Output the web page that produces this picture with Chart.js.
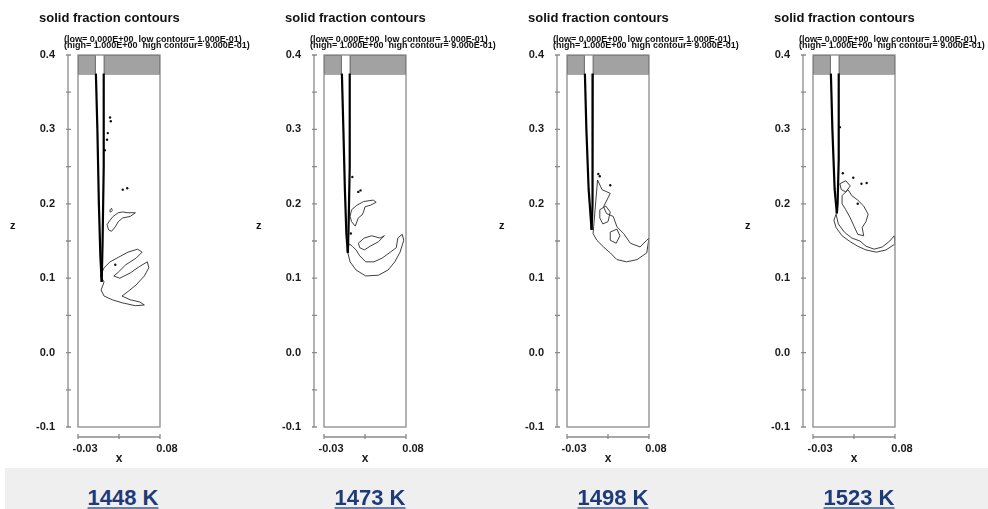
<!DOCTYPE html>
<html>
<head>
<meta charset="utf-8">
<script src="https://cdn.jsdelivr.net/npm/chart.js@4.4.0/dist/chart.umd.min.js"></script>
<style>
	html, body { margin: 0; padding: 0; background: #fff; width: 988px; height: 509px; overflow: hidden; }
	.panel { position: absolute; top: 0; width: 256px; height: 468px; }
	#band { position: absolute; left: 5px; top: 468px; width: 983px; height: 41px; background: #efefef; }
	.temp { position: absolute; top: 485px; line-height: 26px; font: bold 22px 'Liberation Sans', Arial, sans-serif; color: #1d3b79; text-decoration: underline; text-decoration-color: #6c7fa8; transform: translateX(-50%); white-space: nowrap; }
</style>
</head>
<body>
<div id="band"></div>
<div class="panel" style="left:0px"><canvas id="c0" width="256" height="468"></canvas></div>
<div class="panel" style="left:246px"><canvas id="c1" width="256" height="468"></canvas></div>
<div class="panel" style="left:489px"><canvas id="c2" width="256" height="468"></canvas></div>
<div class="panel" style="left:735px"><canvas id="c3" width="256" height="468"></canvas></div>
<span class="temp" style="left:123px">1448 K</span>
<span class="temp" style="left:370px">1473 K</span>
<span class="temp" style="left:613px">1498 K</span>
<span class="temp" style="left:859px">1523 K</span>

<script>
// ---- data ----
const temps = ['1448 K', '1473 K', '1498 K', '1523 K'];
const yTicks = [0.4, 0.3, 0.2, 0.1, 0.0, -0.1];
const yMinor = [0.35, 0.25, 0.15, 0.05, -0.05];
const xTicks = [-0.03, 0.08];
const xMid = 0.025;
const moldTop = 0.375;          // underside of the grey cap
const nozzle = [-0.006, 0.0045]; // opening in the cap

// jet walls, left and right
const jetL1448 = [[-0.006, 0.375], [-0.004, 0.30], [-0.002, 0.20], [0.0, 0.13], [0.0018, 0.095]];
const jetR1448 = [[0.0045, 0.375], [0.0045, 0.25], [0.003, 0.15], [0.0018, 0.095]];
const jetL1473 = [[-0.006, 0.375], [-0.004, 0.30], [-0.002, 0.22], [0.0, 0.16], [0.002, 0.134]];
const jetR1473 = [[0.0045, 0.375], [0.0045, 0.25], [0.003, 0.17], [0.002, 0.134]];
const jetL1498 = [[-0.006, 0.375], [-0.004, 0.30], [-0.001, 0.22], [0.003, 0.165]];
const jetR1498 = [[0.0045, 0.375], [0.0045, 0.25], [0.004, 0.20], [0.003, 0.165]];
const jetL1523 = [[-0.006, 0.375], [-0.004, 0.30], [-0.001, 0.22], [0.002, 0.187]];
const jetR1523 = [[0.0045, 0.375], [0.0045, 0.26], [0.003, 0.20], [0.002, 0.187]];

// closed contour loops (fs = 0.1)
const loops1448 = [
	[[0.013, 0.178], [0.017, 0.183], [0.024, 0.188], [0.030, 0.189], [0.037, 0.188], [0.047, 0.188], [0.040, 0.183], [0.030, 0.181], [0.024, 0.176], [0.020, 0.169], [0.015, 0.163], [0.011, 0.165], [0.009, 0.172]],
	[[0.013, 0.192], [0.015, 0.194], [0.016, 0.191], [0.014, 0.189]],
	[[0.005, 0.114], [0.013, 0.122], [0.024, 0.128], [0.037, 0.135], [0.050, 0.139], [0.056, 0.135], [0.048, 0.127], [0.034, 0.118], [0.024, 0.108], [0.018, 0.103], [0.026, 0.100], [0.040, 0.107], [0.053, 0.116], [0.063, 0.122], [0.065, 0.114], [0.059, 0.103], [0.048, 0.091], [0.037, 0.082], [0.029, 0.076], [0.040, 0.071], [0.053, 0.068], [0.059, 0.064], [0.047, 0.063], [0.029, 0.067], [0.016, 0.071], [0.005, 0.076], [0.001, 0.084], [0.005, 0.095], [0.000, 0.103]]
];
const loops1473 = [
	[[0.007, 0.192], [0.014, 0.198], [0.023, 0.203], [0.036, 0.205], [0.040, 0.202], [0.032, 0.198], [0.025, 0.196], [0.023, 0.189], [0.021, 0.185], [0.016, 0.181], [0.012, 0.170], [0.007, 0.176], [0.005, 0.183]],
	[[0.001, 0.138], [0.005, 0.122], [0.013, 0.111], [0.026, 0.103], [0.043, 0.104], [0.056, 0.111], [0.065, 0.122], [0.072, 0.135], [0.077, 0.151], [0.075, 0.159], [0.069, 0.154], [0.067, 0.141], [0.059, 0.135], [0.048, 0.127], [0.037, 0.122], [0.026, 0.122], [0.018, 0.130], [0.013, 0.138], [0.008, 0.143], [0.004, 0.146]],
	[[0.016, 0.147], [0.024, 0.154], [0.034, 0.157], [0.045, 0.154], [0.051, 0.157], [0.043, 0.149], [0.032, 0.143], [0.024, 0.138], [0.018, 0.141]]
];
const loops1498 = [
	[[0.011, 0.232], [0.017, 0.219], [0.028, 0.214], [0.019, 0.196], [0.023, 0.187], [0.032, 0.183], [0.037, 0.169], [0.046, 0.160], [0.055, 0.147], [0.068, 0.142], [0.077, 0.151], [0.080, 0.154], [0.077, 0.134], [0.064, 0.125], [0.050, 0.122], [0.037, 0.125], [0.028, 0.134], [0.019, 0.142], [0.010, 0.151], [0.005, 0.160]],
	[[0.014, 0.192], [0.022, 0.197], [0.028, 0.189], [0.025, 0.176], [0.018, 0.173], [0.014, 0.181]],
	[[0.028, 0.162], [0.037, 0.166], [0.041, 0.157], [0.036, 0.147], [0.028, 0.151]]
];
const loops1523 = [
	[[0.001, 0.186], [0.004, 0.173], [0.012, 0.162], [0.022, 0.154], [0.033, 0.150], [0.041, 0.143], [0.052, 0.139], [0.063, 0.142], [0.073, 0.150], [0.079, 0.157], [0.080, 0.146], [0.068, 0.138], [0.055, 0.135], [0.041, 0.138], [0.030, 0.143], [0.020, 0.149], [0.009, 0.157], [0.001, 0.168], [-0.002, 0.178]],
	[[0.009, 0.211], [0.017, 0.219], [0.022, 0.211], [0.030, 0.205], [0.038, 0.197], [0.044, 0.186], [0.041, 0.176], [0.036, 0.168], [0.038, 0.157], [0.030, 0.159], [0.025, 0.170], [0.020, 0.181], [0.014, 0.192], [0.009, 0.200]],
	[[0.006, 0.227], [0.014, 0.231], [0.020, 0.224], [0.014, 0.216], [0.008, 0.219]]
];

// isolated specks
const dots1448 = [[0.013, 0.316], [0.014, 0.311], [0.010, 0.295], [0.009, 0.286], [0.006, 0.272], [0.020, 0.118], [0.030, 0.219], [0.036, 0.221]];
const dots1473 = [[0.008, 0.236], [0.016, 0.216], [0.019, 0.218], [0.006, 0.160]];
const dots1498 = [[0.028, 0.225], [0.014, 0.237], [0.012, 0.240]];
const dots1523 = [[0.006, 0.303], [0.010, 0.241], [0.024, 0.235], [0.035, 0.227], [0.042, 0.228], [0.030, 0.200]];

const jets = [[jetL1448, jetR1448], [jetL1473, jetR1473], [jetL1498, jetR1498], [jetL1523, jetR1523]];
const loops = [loops1448, loops1473, loops1498, loops1523];
const dots = [dots1448, dots1473, dots1498, dots1523];

Chart.defaults.font.family = "'Liberation Sans', Arial, sans-serif";
Chart.defaults.color = '#1a1a1a';

function pts(a, close) {
	const p = a.map(([x, y]) => ({x: x, y: y}));
	if (close) p.push(p[0]);
	return p;
}

const grey = '#8a8a8a';

const frame = {
	id: 'frame',
	beforeDatasetsDraw(chart) {
		const {ctx, scales: {x, y}} = chart;
		const yt = y.getPixelForValue(0.4), yb = y.getPixelForValue(moldTop);
		ctx.save();
		ctx.fillStyle = '#a2a2a2';
		ctx.strokeStyle = '#6f6f6f';
		ctx.lineWidth = 1;
		[[xTicks[0], nozzle[0]], [nozzle[1], xTicks[1]]].forEach(([a, b]) => {
			const p0 = x.getPixelForValue(a), p1 = x.getPixelForValue(b);
			ctx.fillRect(p0, yt, p1 - p0, yb - yt);
			ctx.strokeRect(p0 + 0.5, yt + 0.5, p1 - p0 - 1, yb - yt);
		});
		ctx.restore();
	},
	afterDatasetsDraw(chart) {
		const {ctx, chartArea: a, scales: {x, y}} = chart;
		ctx.save();
		ctx.strokeStyle = grey;
		ctx.lineWidth = 1.3;
		ctx.strokeRect(a.left, a.top, a.right - a.left, a.bottom - a.top);

		// detached y axis
		const ax = a.left - 10;
		ctx.beginPath();
		ctx.moveTo(ax, y.getPixelForValue(0.4));
		ctx.lineTo(ax, y.getPixelForValue(-0.1));
		yTicks.concat(yMinor).forEach(v => {
			const py = y.getPixelForValue(v);
			ctx.moveTo(ax - 2, py);
			ctx.lineTo(ax + 3, py);
		});
		// detached x axis
		const ay = a.bottom + 10;
		ctx.moveTo(x.getPixelForValue(xTicks[0]), ay);
		ctx.lineTo(x.getPixelForValue(xTicks[1]), ay);
		xTicks.concat([xMid]).forEach(v => {
			const px = x.getPixelForValue(v);
			ctx.moveTo(px, ay - 3);
			ctx.lineTo(px, ay + 2);
		});
		ctx.stroke();

		// titles
		ctx.fillStyle = '#111';
		ctx.textBaseline = 'middle';
		ctx.textAlign = 'left';
		ctx.font = "bold 13px 'Liberation Sans', Arial, sans-serif";
		ctx.fillText('solid fraction contours', a.left - 39, 18);
		ctx.font = "bold 9px 'Liberation Sans', Arial, sans-serif";
		ctx.fillText('(low= 0.000E+00  low contour= 1.000E-01)', a.left - 14, 39.5);
		ctx.fillText('(high= 1.000E+00  high contour= 9.000E-01)', a.left - 14, 46);
		ctx.font = "bold 11px 'Liberation Sans', Arial, sans-serif";
		ctx.fillText('z', a.left - 68, 226);
		ctx.restore();
	}
};

temps.forEach((t, i) => {
	const datasets = [];
	jets[i].forEach(j => datasets.push({
		data: pts(j, false), showLine: true, borderColor: '#000', borderWidth: 2.2, pointRadius: 0
	}));
	loops[i].forEach(l => datasets.push({
		data: pts(l, true), showLine: true, borderColor: '#2a2a2a', borderWidth: 0.9, pointRadius: 0
	}));
	datasets.push({
		data: pts(dots[i], false), showLine: false, pointRadius: 1.2, pointBorderWidth: 0,
		pointBackgroundColor: '#111'
	});

	new Chart(document.getElementById('c' + i).getContext('2d'), {
		type: 'scatter',
		data: {datasets: datasets},
		options: {
			responsive: false,
			animation: false,
			events: [],
			layout: {padding: {top: 55, right: 96, bottom: 0, left: 0}},
			plugins: {legend: {display: false}, tooltip: {enabled: false}, title: {display: false}},
			scales: {
				x: {
					type: 'linear', min: xTicks[0], max: xTicks[1],
					grid: {display: false, drawTicks: false}, border: {display: false},
					afterBuildTicks: s => { s.ticks = xTicks.map(v => ({value: v})); },
					afterFit: s => { s.height = 41; },
					ticks: {
						autoSkip: false, maxRotation: 0, padding: 15, labelOffset: 7,
						font: {size: 11, weight: 'bold'}, color: '#1a1a1a',
						callback: v => v.toFixed(2)
					},
					title: {display: true, text: 'x', font: {size: 12, weight: 'bold'}, color: '#1a1a1a', padding: {top: 0, bottom: 2}}
				},
				y: {
					type: 'linear', min: -0.1, max: 0.4,
					grid: {display: false, drawTicks: false}, border: {display: false},
					afterBuildTicks: s => { s.ticks = yTicks.map(v => ({value: v})); },
					afterFit: s => { s.width = 78; },
					ticks: {
						autoSkip: false, padding: 23,
						font: {size: 11, weight: 'bold'}, color: '#1a1a1a',
						callback: v => v.toFixed(1)
					}
				}
			}
		},
		plugins: [frame]
	});
});
</script>
</body>
</html>
